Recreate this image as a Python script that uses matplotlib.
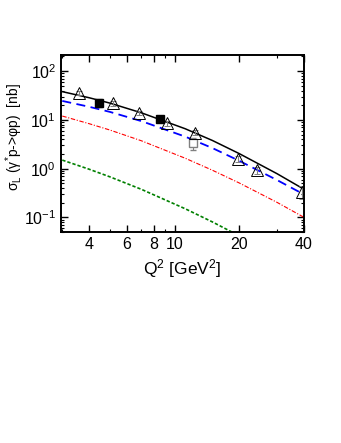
import numpy as np
import matplotlib.pyplot as plt

plt.rcParams['font.family'] = ['Liberation Sans', 'DejaVu Sans']
plt.rcParams['mathtext.fontset'] = 'custom'
plt.rcParams['mathtext.rm'] = 'Liberation Sans'
plt.rcParams['mathtext.default'] = 'regular'
plt.rcParams['mathtext.fallback'] = 'stixsans'
plt.rcParams['axes.unicode_minus'] = False

# model curves
q2_curve = [3, 4, 5, 7, 11.2, 15, 20, 30, 40]
sig_total = [38, 28.5, 22.1, 14.0, 6.6, 3.79, 2.04, 0.79, 0.38]
sig_blue = [24.5, 18.6, 14.6, 9.46, 4.55, 2.65, 1.45, 0.585, 0.297]
sig_red = [12, 8.37, 6.2, 3.74, 1.64, 0.93, 0.51, 0.204, 0.101]
q2_green = [3, 4, 5, 7, 11.2, 15, 20]
sig_green = [1.5, 0.975, 0.68, 0.378, 0.151, 0.081, 0.042]

# data points
q2_tri = [3.57, 5.15, 6.86, 9.18, 12.5, 19.7, 24.1, 39.4]
sig_tri = [36, 22, 14, 8.6, 5.5, 1.6, 0.93, 0.34]
err_tri = [4, 3, 1.5, 1.0, 0.7, 0.25, 0.15, 0.1]

q2_full = [4.45, 8.55]
sig_full = [22.5, 10.6]
err_full = [4.5, 1.5]

q2_open = [12.2]
sig_open = [3.3]
err_open = [0.9]

fig = plt.figure(figsize=(3.41, 4.43), dpi=100)
ax = fig.add_axes([0.179, 0.476, 0.712, 0.4])

ax.plot(q2_curve, sig_total, color='black', lw=1.1)
ax.plot(q2_curve, sig_blue, color='blue', lw=1.3, dashes=(5, 3))
ax.plot(q2_curve, sig_red, color='red', lw=0.8, dashes=(4, 1.5, 1, 1.5))
ax.plot(q2_green, sig_green, color='green', lw=1.2, dashes=(2, 1.2))

ax.errorbar(q2_open, sig_open, yerr=err_open, fmt='s', ms=6, mfc='white',
            mec='gray', ecolor='gray', elinewidth=0.8, capsize=2)
ax.errorbar(q2_full, sig_full, yerr=err_full, fmt='s', ms=6, mfc='black',
            mec='black', ecolor='gray', elinewidth=0.8, capsize=2)
ax.errorbar(q2_tri, sig_tri, yerr=err_tri, fmt='^', ms=8, mfc='none',
            mec='black', mew=0.7, ecolor='gray', elinewidth=0.8, capsize=2)

ax.set_xscale('log')
ax.set_yscale('log')
ax.set_xlim(2.96, 40)
ax.set_ylim(0.05, 215)

xt = [4, 6, 8, 10, 20, 40]
ax.set_xticks(xt)
ax.set_xticklabels([str(v) for v in xt])
ax.xaxis.set_minor_formatter(plt.NullFormatter())
ax.tick_params(which='both', direction='in', top=True, right=True)
ax.tick_params(which='major', length=5, width=1, labelsize=11.5)
ax.tick_params(which='minor', length=2.5, width=0.8)
for s in ax.spines.values():
    s.set_linewidth(1.4)

ax.set_xlabel('Q$^2$ [GeV$^2$]', fontsize=12.5)
ax.set_ylabel('σ$_L$ (γ$^{*}$p->φp)  [nb]', fontsize=10)
ax.yaxis.set_label_coords(-0.148, 0.535)

fig.savefig('out.png', dpi=100)
